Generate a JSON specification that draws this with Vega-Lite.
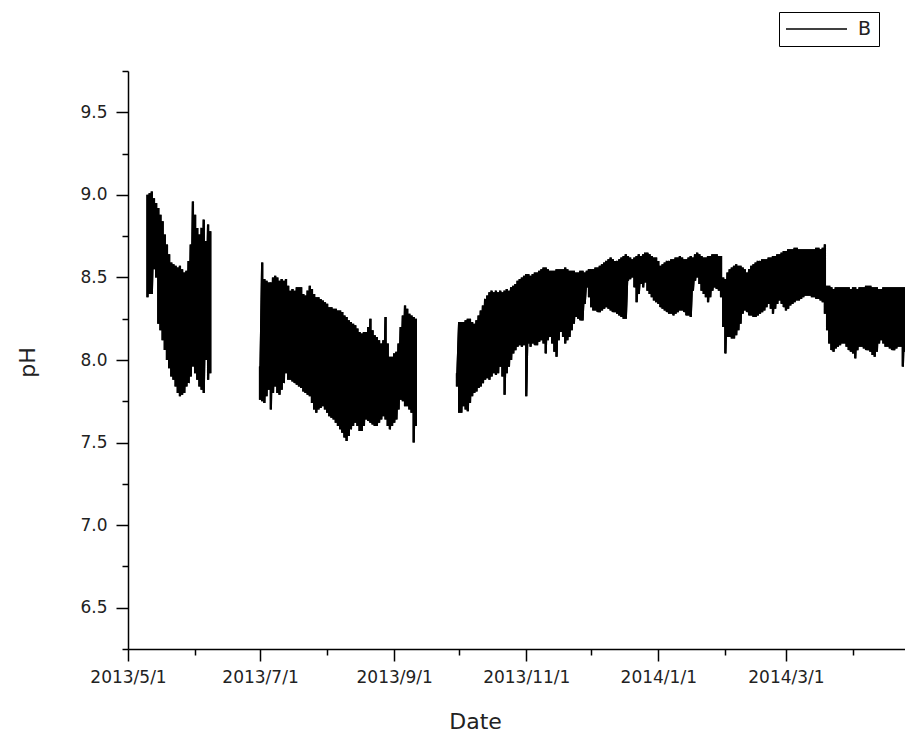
{
"$schema": "https://vega.github.io/schema/vega-lite/v6.json",
"width": 777, "height": 578,
"autosize": {"type": "none"},
"padding": {"left": 128, "top": 71, "right": 0, "bottom": 87},
"background": "white",
"config": {"view": {"stroke": null}, "font": "DejaVu Sans"},
"data": {"values": [
{"d":"2013/05/10","h":9.00,"l":8.38,"s":1},
{"d":"2013/05/11","h":9.01,"l":8.40,"s":1},
{"d":"2013/05/12","h":9.02,"l":8.40,"s":1},
{"d":"2013/05/13","h":8.98,"l":8.55,"s":1},
{"d":"2013/05/14","h":8.95,"l":8.50,"s":1},
{"d":"2013/05/15","h":8.92,"l":8.22,"s":1},
{"d":"2013/05/16","h":8.88,"l":8.18,"s":1},
{"d":"2013/05/17","h":8.84,"l":8.12,"s":1},
{"d":"2013/05/18","h":8.76,"l":8.06,"s":1},
{"d":"2013/05/19","h":8.70,"l":8.00,"s":1},
{"d":"2013/05/20","h":8.64,"l":7.95,"s":1},
{"d":"2013/05/21","h":8.59,"l":7.90,"s":1},
{"d":"2013/05/22","h":8.58,"l":7.88,"s":1},
{"d":"2013/05/23","h":8.57,"l":7.84,"s":1},
{"d":"2013/05/24","h":8.56,"l":7.80,"s":1},
{"d":"2013/05/25","h":8.57,"l":7.78,"s":1},
{"d":"2013/05/26","h":8.55,"l":7.79,"s":1},
{"d":"2013/05/27","h":8.53,"l":7.80,"s":1},
{"d":"2013/05/28","h":8.54,"l":7.84,"s":1},
{"d":"2013/05/29","h":8.60,"l":7.86,"s":1},
{"d":"2013/05/30","h":8.70,"l":7.90,"s":1},
{"d":"2013/05/31","h":8.96,"l":7.96,"s":1},
{"d":"2013/06/01","h":8.88,"l":7.92,"s":1},
{"d":"2013/06/02","h":8.80,"l":7.88,"s":1},
{"d":"2013/06/03","h":8.76,"l":7.84,"s":1},
{"d":"2013/06/04","h":8.80,"l":7.82,"s":1},
{"d":"2013/06/05","h":8.85,"l":7.80,"s":1},
{"d":"2013/06/06","h":8.72,"l":8.00,"s":1},
{"d":"2013/06/07","h":8.82,"l":7.88,"s":1},
{"d":"2013/06/08","h":8.78,"l":7.92,"s":1},
{"d":"2013/07/01","h":7.96,"l":7.76,"s":2},
{"d":"2013/07/02","h":8.59,"l":7.75,"s":2},
{"d":"2013/07/03","h":8.49,"l":7.74,"s":2},
{"d":"2013/07/04","h":8.48,"l":7.78,"s":2},
{"d":"2013/07/05","h":8.47,"l":7.82,"s":2},
{"d":"2013/07/06","h":8.47,"l":7.70,"s":2},
{"d":"2013/07/07","h":8.50,"l":7.80,"s":2},
{"d":"2013/07/08","h":8.51,"l":7.84,"s":2},
{"d":"2013/07/09","h":8.50,"l":7.80,"s":2},
{"d":"2013/07/10","h":8.48,"l":7.79,"s":2},
{"d":"2013/07/11","h":8.49,"l":7.82,"s":2},
{"d":"2013/07/12","h":8.48,"l":7.86,"s":2},
{"d":"2013/07/13","h":8.49,"l":7.92,"s":2},
{"d":"2013/07/14","h":8.45,"l":7.88,"s":2},
{"d":"2013/07/15","h":8.42,"l":7.88,"s":2},
{"d":"2013/07/16","h":8.43,"l":7.87,"s":2},
{"d":"2013/07/17","h":8.42,"l":7.86,"s":2},
{"d":"2013/07/18","h":8.44,"l":7.85,"s":2},
{"d":"2013/07/19","h":8.44,"l":7.84,"s":2},
{"d":"2013/07/20","h":8.44,"l":7.83,"s":2},
{"d":"2013/07/21","h":8.40,"l":7.81,"s":2},
{"d":"2013/07/22","h":8.39,"l":7.80,"s":2},
{"d":"2013/07/23","h":8.42,"l":7.79,"s":2},
{"d":"2013/07/24","h":8.45,"l":7.78,"s":2},
{"d":"2013/07/25","h":8.43,"l":7.74,"s":2},
{"d":"2013/07/26","h":8.40,"l":7.70,"s":2},
{"d":"2013/07/27","h":8.38,"l":7.68,"s":2},
{"d":"2013/07/28","h":8.38,"l":7.70,"s":2},
{"d":"2013/07/29","h":8.37,"l":7.71,"s":2},
{"d":"2013/07/30","h":8.36,"l":7.72,"s":2},
{"d":"2013/07/31","h":8.35,"l":7.70,"s":2},
{"d":"2013/08/01","h":8.34,"l":7.68,"s":2},
{"d":"2013/08/02","h":8.32,"l":7.66,"s":2},
{"d":"2013/08/03","h":8.32,"l":7.65,"s":2},
{"d":"2013/08/04","h":8.31,"l":7.64,"s":2},
{"d":"2013/08/05","h":8.31,"l":7.62,"s":2},
{"d":"2013/08/06","h":8.30,"l":7.60,"s":2},
{"d":"2013/08/07","h":8.30,"l":7.58,"s":2},
{"d":"2013/08/08","h":8.29,"l":7.56,"s":2},
{"d":"2013/08/09","h":8.27,"l":7.53,"s":2},
{"d":"2013/08/10","h":8.26,"l":7.51,"s":2},
{"d":"2013/08/11","h":8.24,"l":7.54,"s":2},
{"d":"2013/08/12","h":8.23,"l":7.58,"s":2},
{"d":"2013/08/13","h":8.22,"l":7.60,"s":2},
{"d":"2013/08/14","h":8.21,"l":7.62,"s":2},
{"d":"2013/08/15","h":8.19,"l":7.60,"s":2},
{"d":"2013/08/16","h":8.17,"l":7.57,"s":2},
{"d":"2013/08/17","h":8.16,"l":7.57,"s":2},
{"d":"2013/08/18","h":8.17,"l":7.60,"s":2},
{"d":"2013/08/19","h":8.17,"l":7.64,"s":2},
{"d":"2013/08/20","h":8.20,"l":7.63,"s":2},
{"d":"2013/08/21","h":8.25,"l":7.62,"s":2},
{"d":"2013/08/22","h":8.18,"l":7.61,"s":2},
{"d":"2013/08/23","h":8.15,"l":7.60,"s":2},
{"d":"2013/08/24","h":8.14,"l":7.60,"s":2},
{"d":"2013/08/25","h":8.12,"l":7.62,"s":2},
{"d":"2013/08/26","h":8.10,"l":7.64,"s":2},
{"d":"2013/08/27","h":8.12,"l":7.66,"s":2},
{"d":"2013/08/28","h":8.26,"l":7.64,"s":2},
{"d":"2013/08/29","h":8.10,"l":7.60,"s":2},
{"d":"2013/08/30","h":8.02,"l":7.58,"s":2},
{"d":"2013/08/31","h":8.02,"l":7.60,"s":2},
{"d":"2013/09/01","h":8.04,"l":7.62,"s":2},
{"d":"2013/09/02","h":8.05,"l":7.64,"s":2},
{"d":"2013/09/03","h":8.10,"l":7.70,"s":2},
{"d":"2013/09/04","h":8.20,"l":7.76,"s":2},
{"d":"2013/09/05","h":8.27,"l":7.75,"s":2},
{"d":"2013/09/06","h":8.33,"l":7.72,"s":2},
{"d":"2013/09/07","h":8.31,"l":7.72,"s":2},
{"d":"2013/09/08","h":8.28,"l":7.70,"s":2},
{"d":"2013/09/09","h":8.27,"l":7.68,"s":2},
{"d":"2013/09/10","h":8.26,"l":7.50,"s":2},
{"d":"2013/09/11","h":8.25,"l":7.60,"s":2},
{"d":"2013/09/30","h":7.92,"l":7.84,"s":3},
{"d":"2013/10/01","h":8.23,"l":7.68,"s":3},
{"d":"2013/10/02","h":8.23,"l":7.68,"s":3},
{"d":"2013/10/03","h":8.23,"l":7.72,"s":3},
{"d":"2013/10/04","h":8.24,"l":7.70,"s":3},
{"d":"2013/10/05","h":8.25,"l":7.69,"s":3},
{"d":"2013/10/06","h":8.25,"l":7.74,"s":3},
{"d":"2013/10/07","h":8.23,"l":7.78,"s":3},
{"d":"2013/10/08","h":8.22,"l":7.80,"s":3},
{"d":"2013/10/09","h":8.24,"l":7.81,"s":3},
{"d":"2013/10/10","h":8.27,"l":7.83,"s":3},
{"d":"2013/10/11","h":8.30,"l":7.84,"s":3},
{"d":"2013/10/12","h":8.33,"l":7.86,"s":3},
{"d":"2013/10/13","h":8.37,"l":7.88,"s":3},
{"d":"2013/10/14","h":8.39,"l":7.89,"s":3},
{"d":"2013/10/15","h":8.41,"l":7.88,"s":3},
{"d":"2013/10/16","h":8.42,"l":7.90,"s":3},
{"d":"2013/10/17","h":8.41,"l":7.92,"s":3},
{"d":"2013/10/18","h":8.42,"l":7.91,"s":3},
{"d":"2013/10/19","h":8.41,"l":7.92,"s":3},
{"d":"2013/10/20","h":8.42,"l":7.96,"s":3},
{"d":"2013/10/21","h":8.41,"l":7.90,"s":3},
{"d":"2013/10/22","h":8.42,"l":7.79,"s":3},
{"d":"2013/10/23","h":8.43,"l":7.92,"s":3},
{"d":"2013/10/24","h":8.42,"l":7.96,"s":3},
{"d":"2013/10/25","h":8.44,"l":8.00,"s":3},
{"d":"2013/10/26","h":8.45,"l":8.04,"s":3},
{"d":"2013/10/27","h":8.46,"l":8.06,"s":3},
{"d":"2013/10/28","h":8.48,"l":8.08,"s":3},
{"d":"2013/10/29","h":8.49,"l":8.09,"s":3},
{"d":"2013/10/30","h":8.50,"l":8.08,"s":3},
{"d":"2013/10/31","h":8.51,"l":8.09,"s":3},
{"d":"2013/11/01","h":8.52,"l":7.78,"s":3},
{"d":"2013/11/02","h":8.52,"l":8.10,"s":3},
{"d":"2013/11/03","h":8.51,"l":8.08,"s":3},
{"d":"2013/11/04","h":8.52,"l":8.10,"s":3},
{"d":"2013/11/05","h":8.53,"l":8.09,"s":3},
{"d":"2013/11/06","h":8.53,"l":8.09,"s":3},
{"d":"2013/11/07","h":8.54,"l":8.11,"s":3},
{"d":"2013/11/08","h":8.55,"l":8.12,"s":3},
{"d":"2013/11/09","h":8.56,"l":8.10,"s":3},
{"d":"2013/11/10","h":8.56,"l":8.04,"s":3},
{"d":"2013/11/11","h":8.55,"l":8.12,"s":3},
{"d":"2013/11/12","h":8.54,"l":8.14,"s":3},
{"d":"2013/11/13","h":8.54,"l":8.10,"s":3},
{"d":"2013/11/14","h":8.54,"l":8.05,"s":3},
{"d":"2013/11/15","h":8.55,"l":8.02,"s":3},
{"d":"2013/11/16","h":8.55,"l":8.12,"s":3},
{"d":"2013/11/17","h":8.55,"l":8.17,"s":3},
{"d":"2013/11/18","h":8.55,"l":8.14,"s":3},
{"d":"2013/11/19","h":8.56,"l":8.10,"s":3},
{"d":"2013/11/20","h":8.55,"l":8.12,"s":3},
{"d":"2013/11/21","h":8.54,"l":8.14,"s":3},
{"d":"2013/11/22","h":8.54,"l":8.18,"s":3},
{"d":"2013/11/23","h":8.54,"l":8.22,"s":3},
{"d":"2013/11/24","h":8.53,"l":8.26,"s":3},
{"d":"2013/11/25","h":8.53,"l":8.25,"s":3},
{"d":"2013/11/26","h":8.54,"l":8.24,"s":3},
{"d":"2013/11/27","h":8.54,"l":8.24,"s":3},
{"d":"2013/11/28","h":8.53,"l":8.34,"s":3},
{"d":"2013/11/29","h":8.54,"l":8.44,"s":3},
{"d":"2013/11/30","h":8.55,"l":8.38,"s":3},
{"d":"2013/12/01","h":8.55,"l":8.32,"s":3},
{"d":"2013/12/02","h":8.55,"l":8.30,"s":3},
{"d":"2013/12/03","h":8.56,"l":8.30,"s":3},
{"d":"2013/12/04","h":8.56,"l":8.29,"s":3},
{"d":"2013/12/05","h":8.57,"l":8.29,"s":3},
{"d":"2013/12/06","h":8.58,"l":8.30,"s":3},
{"d":"2013/12/07","h":8.59,"l":8.31,"s":3},
{"d":"2013/12/08","h":8.60,"l":8.32,"s":3},
{"d":"2013/12/09","h":8.61,"l":8.31,"s":3},
{"d":"2013/12/10","h":8.62,"l":8.30,"s":3},
{"d":"2013/12/11","h":8.61,"l":8.29,"s":3},
{"d":"2013/12/12","h":8.60,"l":8.29,"s":3},
{"d":"2013/12/13","h":8.60,"l":8.28,"s":3},
{"d":"2013/12/14","h":8.61,"l":8.27,"s":3},
{"d":"2013/12/15","h":8.62,"l":8.26,"s":3},
{"d":"2013/12/16","h":8.63,"l":8.25,"s":3},
{"d":"2013/12/17","h":8.64,"l":8.25,"s":3},
{"d":"2013/12/18","h":8.63,"l":8.48,"s":3},
{"d":"2013/12/19","h":8.62,"l":8.49,"s":3},
{"d":"2013/12/20","h":8.61,"l":8.50,"s":3},
{"d":"2013/12/21","h":8.62,"l":8.44,"s":3},
{"d":"2013/12/22","h":8.63,"l":8.35,"s":3},
{"d":"2013/12/23","h":8.64,"l":8.40,"s":3},
{"d":"2013/12/24","h":8.63,"l":8.46,"s":3},
{"d":"2013/12/25","h":8.64,"l":8.44,"s":3},
{"d":"2013/12/26","h":8.65,"l":8.47,"s":3},
{"d":"2013/12/27","h":8.65,"l":8.42,"s":3},
{"d":"2013/12/28","h":8.64,"l":8.40,"s":3},
{"d":"2013/12/29","h":8.63,"l":8.38,"s":3},
{"d":"2013/12/30","h":8.62,"l":8.36,"s":3},
{"d":"2013/12/31","h":8.62,"l":8.35,"s":3},
{"d":"2014/01/01","h":8.60,"l":8.34,"s":3},
{"d":"2014/01/02","h":8.57,"l":8.32,"s":3},
{"d":"2014/01/03","h":8.58,"l":8.31,"s":3},
{"d":"2014/01/04","h":8.59,"l":8.30,"s":3},
{"d":"2014/01/05","h":8.60,"l":8.29,"s":3},
{"d":"2014/01/06","h":8.60,"l":8.28,"s":3},
{"d":"2014/01/07","h":8.61,"l":8.28,"s":3},
{"d":"2014/01/08","h":8.61,"l":8.27,"s":3},
{"d":"2014/01/09","h":8.62,"l":8.28,"s":3},
{"d":"2014/01/10","h":8.62,"l":8.29,"s":3},
{"d":"2014/01/11","h":8.63,"l":8.30,"s":3},
{"d":"2014/01/12","h":8.62,"l":8.30,"s":3},
{"d":"2014/01/13","h":8.61,"l":8.29,"s":3},
{"d":"2014/01/14","h":8.61,"l":8.27,"s":3},
{"d":"2014/01/15","h":8.62,"l":8.27,"s":3},
{"d":"2014/01/16","h":8.63,"l":8.26,"s":3},
{"d":"2014/01/17","h":8.62,"l":8.42,"s":3},
{"d":"2014/01/18","h":8.64,"l":8.48,"s":3},
{"d":"2014/01/19","h":8.65,"l":8.50,"s":3},
{"d":"2014/01/20","h":8.64,"l":8.46,"s":3},
{"d":"2014/01/21","h":8.63,"l":8.42,"s":3},
{"d":"2014/01/22","h":8.62,"l":8.40,"s":3},
{"d":"2014/01/23","h":8.62,"l":8.38,"s":3},
{"d":"2014/01/24","h":8.63,"l":8.35,"s":3},
{"d":"2014/01/25","h":8.63,"l":8.38,"s":3},
{"d":"2014/01/26","h":8.64,"l":8.42,"s":3},
{"d":"2014/01/27","h":8.64,"l":8.44,"s":3},
{"d":"2014/01/28","h":8.64,"l":8.43,"s":3},
{"d":"2014/01/29","h":8.63,"l":8.42,"s":3},
{"d":"2014/01/30","h":8.63,"l":8.38,"s":3},
{"d":"2014/01/31","h":8.50,"l":8.20,"s":3},
{"d":"2014/02/01","h":8.49,"l":8.04,"s":3},
{"d":"2014/02/02","h":8.53,"l":8.14,"s":3},
{"d":"2014/02/03","h":8.55,"l":8.14,"s":3},
{"d":"2014/02/04","h":8.56,"l":8.13,"s":3},
{"d":"2014/02/05","h":8.57,"l":8.13,"s":3},
{"d":"2014/02/06","h":8.58,"l":8.15,"s":3},
{"d":"2014/02/07","h":8.57,"l":8.18,"s":3},
{"d":"2014/02/08","h":8.57,"l":8.22,"s":3},
{"d":"2014/02/09","h":8.56,"l":8.28,"s":3},
{"d":"2014/02/10","h":8.55,"l":8.30,"s":3},
{"d":"2014/02/11","h":8.53,"l":8.29,"s":3},
{"d":"2014/02/12","h":8.55,"l":8.27,"s":3},
{"d":"2014/02/13","h":8.57,"l":8.27,"s":3},
{"d":"2014/02/14","h":8.58,"l":8.26,"s":3},
{"d":"2014/02/15","h":8.59,"l":8.26,"s":3},
{"d":"2014/02/16","h":8.60,"l":8.27,"s":3},
{"d":"2014/02/17","h":8.60,"l":8.28,"s":3},
{"d":"2014/02/18","h":8.61,"l":8.29,"s":3},
{"d":"2014/02/19","h":8.61,"l":8.30,"s":3},
{"d":"2014/02/20","h":8.61,"l":8.32,"s":3},
{"d":"2014/02/21","h":8.62,"l":8.34,"s":3},
{"d":"2014/02/22","h":8.62,"l":8.31,"s":3},
{"d":"2014/02/23","h":8.63,"l":8.28,"s":3},
{"d":"2014/02/24","h":8.63,"l":8.31,"s":3},
{"d":"2014/02/25","h":8.64,"l":8.34,"s":3},
{"d":"2014/02/26","h":8.64,"l":8.36,"s":3},
{"d":"2014/02/27","h":8.65,"l":8.34,"s":3},
{"d":"2014/02/28","h":8.66,"l":8.32,"s":3},
{"d":"2014/03/01","h":8.66,"l":8.30,"s":3},
{"d":"2014/03/02","h":8.67,"l":8.31,"s":3},
{"d":"2014/03/03","h":8.67,"l":8.33,"s":3},
{"d":"2014/03/04","h":8.67,"l":8.34,"s":3},
{"d":"2014/03/05","h":8.68,"l":8.35,"s":3},
{"d":"2014/03/06","h":8.68,"l":8.36,"s":3},
{"d":"2014/03/07","h":8.67,"l":8.36,"s":3},
{"d":"2014/03/08","h":8.67,"l":8.37,"s":3},
{"d":"2014/03/09","h":8.67,"l":8.38,"s":3},
{"d":"2014/03/10","h":8.67,"l":8.39,"s":3},
{"d":"2014/03/11","h":8.67,"l":8.39,"s":3},
{"d":"2014/03/12","h":8.67,"l":8.39,"s":3},
{"d":"2014/03/13","h":8.67,"l":8.38,"s":3},
{"d":"2014/03/14","h":8.67,"l":8.38,"s":3},
{"d":"2014/03/15","h":8.68,"l":8.37,"s":3},
{"d":"2014/03/16","h":8.68,"l":8.37,"s":3},
{"d":"2014/03/17","h":8.67,"l":8.36,"s":3},
{"d":"2014/03/18","h":8.68,"l":8.35,"s":3},
{"d":"2014/03/19","h":8.70,"l":8.28,"s":3},
{"d":"2014/03/20","h":8.45,"l":8.18,"s":3},
{"d":"2014/03/21","h":8.45,"l":8.10,"s":3},
{"d":"2014/03/22","h":8.44,"l":8.06,"s":3},
{"d":"2014/03/23","h":8.43,"l":8.05,"s":3},
{"d":"2014/03/24","h":8.44,"l":8.07,"s":3},
{"d":"2014/03/25","h":8.44,"l":8.08,"s":3},
{"d":"2014/03/26","h":8.44,"l":8.09,"s":3},
{"d":"2014/03/27","h":8.44,"l":8.10,"s":3},
{"d":"2014/03/28","h":8.44,"l":8.10,"s":3},
{"d":"2014/03/29","h":8.44,"l":8.08,"s":3},
{"d":"2014/03/30","h":8.44,"l":8.06,"s":3},
{"d":"2014/03/31","h":8.43,"l":8.05,"s":3},
{"d":"2014/04/01","h":8.44,"l":8.04,"s":3},
{"d":"2014/04/02","h":8.44,"l":8.01,"s":3},
{"d":"2014/04/03","h":8.43,"l":8.06,"s":3},
{"d":"2014/04/04","h":8.44,"l":8.08,"s":3},
{"d":"2014/04/05","h":8.44,"l":8.08,"s":3},
{"d":"2014/04/06","h":8.44,"l":8.07,"s":3},
{"d":"2014/04/07","h":8.45,"l":8.06,"s":3},
{"d":"2014/04/08","h":8.45,"l":8.06,"s":3},
{"d":"2014/04/09","h":8.45,"l":8.05,"s":3},
{"d":"2014/04/10","h":8.44,"l":8.03,"s":3},
{"d":"2014/04/11","h":8.44,"l":8.02,"s":3},
{"d":"2014/04/12","h":8.44,"l":8.05,"s":3},
{"d":"2014/04/13","h":8.43,"l":8.10,"s":3},
{"d":"2014/04/14","h":8.43,"l":8.12,"s":3},
{"d":"2014/04/15","h":8.44,"l":8.10,"s":3},
{"d":"2014/04/16","h":8.44,"l":8.08,"s":3},
{"d":"2014/04/17","h":8.44,"l":8.08,"s":3},
{"d":"2014/04/18","h":8.44,"l":8.07,"s":3},
{"d":"2014/04/19","h":8.44,"l":8.06,"s":3},
{"d":"2014/04/20","h":8.44,"l":8.06,"s":3},
{"d":"2014/04/21","h":8.44,"l":8.07,"s":3},
{"d":"2014/04/22","h":8.44,"l":8.08,"s":3},
{"d":"2014/04/23","h":8.44,"l":8.08,"s":3},
{"d":"2014/04/24","h":8.44,"l":7.96,"s":3},
{"d":"2014/04/25","h":8.44,"l":8.05,"s":3}
]},
"transform": [{"fold": ["h", "l"], "as": ["k", "pH"]}],
"layer": [
{
"mark": {"type": "line", "strokeWidth": 2.2, "clip": true, "strokeJoin": "miter"},
"encoding": {
"x": {"field": "d", "type": "temporal",
 "scale": {"domain": [{"year": 2013, "month": 5, "date": 1}, {"year": 2014, "month": 4, "date": 25}], "nice": false},
 "axis": {"title": "Date", "orient": "bottom",
  "values": [{"year": 2013, "month": 5, "date": 1}, {"year": 2013, "month": 7, "date": 1}, {"year": 2013, "month": 9, "date": 1}, {"year": 2013, "month": 11, "date": 1}, {"year": 2014, "month": 1, "date": 1}, {"year": 2014, "month": 3, "date": 1}],
  "format": "%Y/%-m/%-d", "grid": false,
  "domainColor": "black", "domainWidth": 1.5, "tickColor": "black", "tickWidth": 1.5, "tickSize": 12,
  "labelFontSize": 17, "labelColor": "#222", "labelPadding": 8, "labelFlush": false, "labelOverlap": false,
  "titleFontSize": 22, "titleFontWeight": "normal", "titleColor": "#222",
  "titleX": 347, "titleY": 79, "titleAlign": "center", "titleBaseline": "alphabetic"}},
"y": {"field": "pH", "type": "quantitative",
 "scale": {"domain": [6.25, 9.75], "nice": false, "zero": false},
 "axis": {"title": "pH", "orient": "left",
  "values": [6.5, 7.0, 7.5, 8.0, 8.5, 9.0, 9.5], "format": ".1f", "grid": false,
  "domainColor": "black", "domainWidth": 1.5, "tickColor": "black", "tickWidth": 1.5, "tickSize": 12,
  "labelFontSize": 17, "labelColor": "#222", "labelPadding": 9, "labelFlush": false,
  "titleFontSize": 22, "titleFontWeight": "normal", "titleColor": "#222",
  "titleX": -101, "titleY": 291, "titleAlign": "center", "titleBaseline": "middle", "titleAngle": 270}},
"detail": {"field": "s"},
"color": {"datum": "B", "type": "nominal", "scale": {"range": ["black"]},
 "legend": {"title": null, "orient": "none", "legendX": 651, "legendY": -59,
  "symbolType": "stroke", "symbolSize": 4225, "symbolStrokeWidth": 1.5, "symbolOffset": -5,
  "clipHeight": 20,
  "labelFontSize": 19, "labelColor": "#222", "labelOffset": 10,
  "padding": 7, "strokeColor": "black", "fillColor": "white", "cornerRadius": 0}}
}
},
{
"mark": {"type": "line", "strokeWidth": 2.2, "clip": true, "color": "black", "strokeJoin": "miter"},
"encoding": {
"x": {"field": "d", "type": "temporal",
 "axis": {"title": null, "orient": "bottom", "labels": false, "domain": false, "grid": false,
  "values": [{"year": 2013, "month": 6, "date": 1}, {"year": 2013, "month": 8, "date": 1}, {"year": 2013, "month": 10, "date": 1}, {"year": 2013, "month": 12, "date": 1}, {"year": 2014, "month": 2, "date": 1}, {"year": 2014, "month": 4, "date": 1}],
  "tickColor": "black", "tickWidth": 1.5, "tickSize": 6}},
"y": {"field": "pH", "type": "quantitative",
 "axis": {"title": null, "orient": "left", "labels": false, "domain": false, "grid": false,
  "values": [6.25, 6.75, 7.25, 7.75, 8.25, 8.75, 9.25, 9.75],
  "tickColor": "black", "tickWidth": 1.5, "tickSize": 6}},
"detail": {"field": "s"}
}
}
],
"resolve": {"axis": {"x": "independent", "y": "independent"}}
}
